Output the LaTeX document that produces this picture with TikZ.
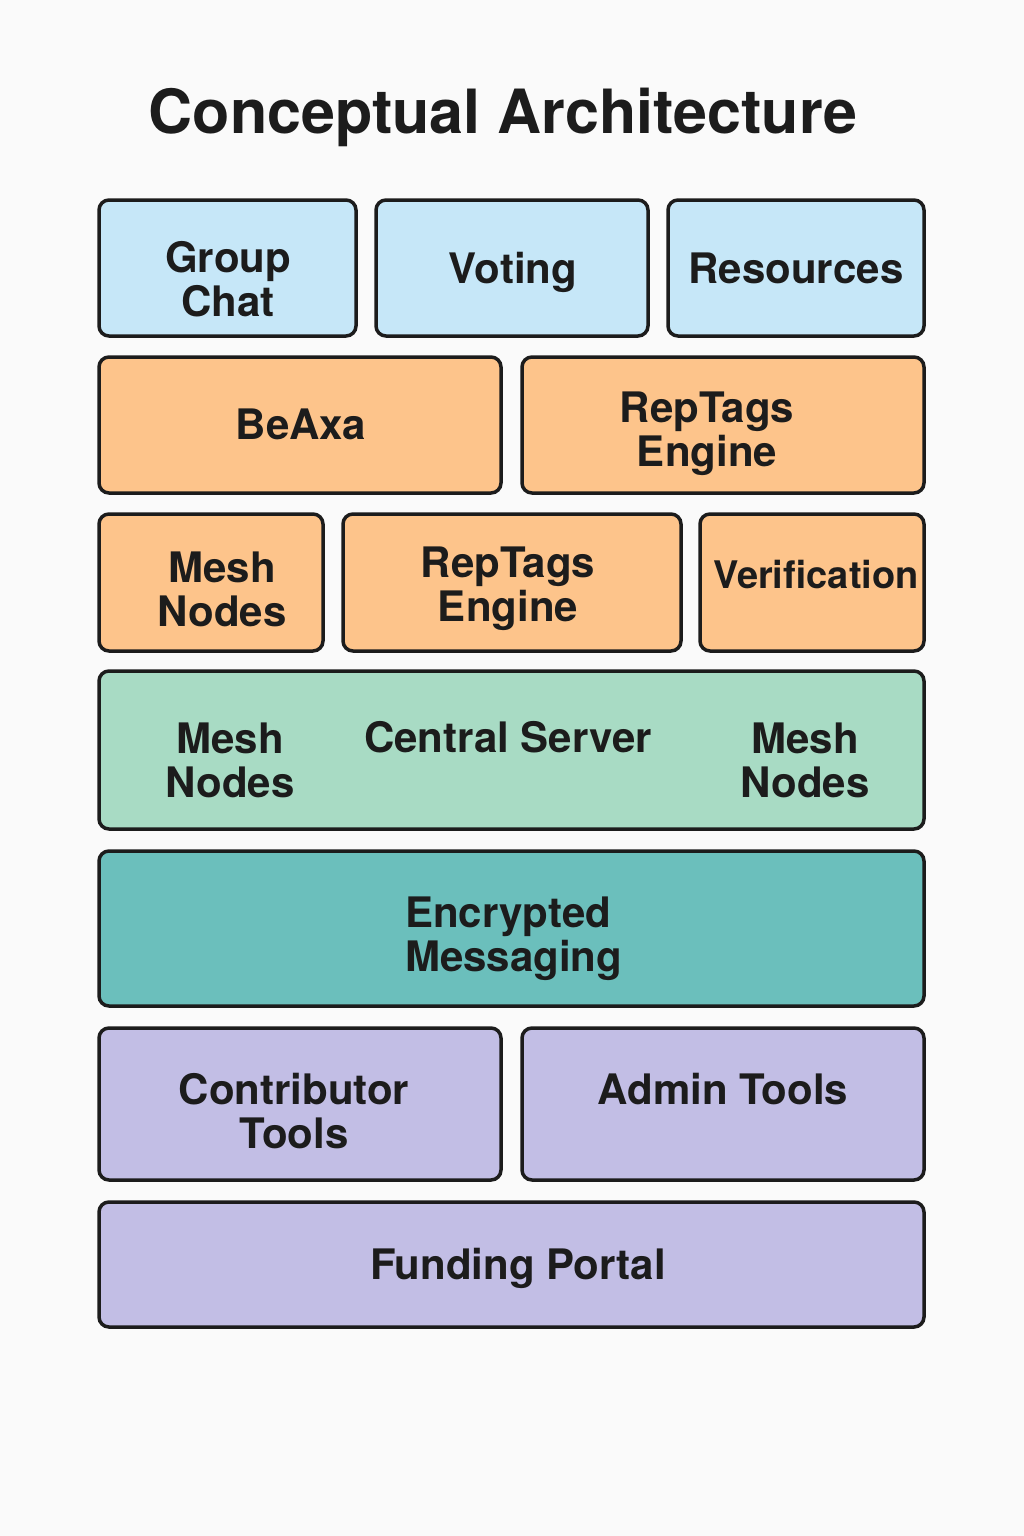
\documentclass[tikz,border=0pt]{standalone}
\usepackage{fontspec}
\setmainfont{TeX Gyre Heros}
\definecolor{bg}{HTML}{FAFAFA}
\definecolor{ink}{HTML}{1C1C1C}
\definecolor{cblue}{HTML}{C6E7F8}
\definecolor{corange}{HTML}{FDC48B}
\definecolor{cgreen}{HTML}{A8DBC4}
\definecolor{cteal}{HTML}{6BBFBC}
\definecolor{cpurple}{HTML}{C2BEE5}
\tikzset{
  layerbox/.style={draw=ink, line width=3.5pt, rounded corners=10pt, inner sep=0pt, rectangle},
  lbl/.style={font=\bfseries\fontsize{42}{44}\selectfont, text=ink, align=center, inner sep=0pt, anchor=base},
}
\begin{document}
\begin{tikzpicture}[x=1pt,y=-1pt]
\fill[bg] (0,0) rectangle (1024,1536);
\useasboundingbox (0,0) rectangle (1024,1536);
\node[font=\bfseries\fontsize{61}{61}\selectfont, text=ink, anchor=base, inner sep=0pt] (title) at (503,133) {Conceptual Architecture};
% row 1
\node[layerbox, fill=cblue, minimum width=257pt, minimum height=136pt] (gcbox) at (227.5,268) {};
\node[layerbox, fill=cblue, minimum width=272pt, minimum height=136pt] (votbox) at (512,268) {};
\node[layerbox, fill=cblue, minimum width=256pt, minimum height=136pt] (resbox) at (796,268) {};
\node[lbl] (gc) at (228,316) {Group\\Chat};
\node[lbl] (vot) at (513,283) {Voting};
\node[lbl] (res) at (796,283) {Resources};
% row 2
\node[layerbox, fill=corange, minimum width=402pt, minimum height=136pt] (beabox) at (300,425) {};
\node[layerbox, fill=corange, minimum width=402pt, minimum height=136pt] (rt1box) at (723,425) {};
\node[lbl] (bea) at (301,439) {BeAxa};
\node[lbl] (rt1) at (707,466) {RepTags\\Engine};
% row 3
\node[layerbox, fill=corange, minimum width=224pt, minimum height=137pt] (mn1box) at (211,582.5) {};
\node[layerbox, fill=corange, minimum width=338pt, minimum height=137pt] (rt2box) at (512,582.5) {};
\node[layerbox, fill=corange, minimum width=224pt, minimum height=137pt] (verbox) at (812,582.5) {};
\node[lbl] (mn1) at (222,626) {Mesh\\Nodes};
\node[lbl] (rt2) at (508,621) {RepTags\\Engine};
\node[lbl, font=\bfseries\fontsize{38}{40}\selectfont] (ver) at (816,588) {Verification};
% row 4
\node[layerbox, fill=cgreen, minimum width=825pt, minimum height=158pt] (srvbox) at (511.5,750) {};
\node[lbl] (mn2) at (230,797) {Mesh\\Nodes};
\node[lbl] (srv) at (508,752) {Central Server};
\node[lbl] (mn3) at (805,797) {Mesh\\Nodes};
% row 5
\node[layerbox, fill=cteal, minimum width=825pt, minimum height=155pt] (encbox) at (511.5,928.5) {};
\node[lbl, align=left, anchor=base west] (enc) at (405,971) {Encrypted\\Messaging};
% row 6
\node[layerbox, fill=cpurple, minimum width=402pt, minimum height=152pt] (ctbox) at (300,1104) {};
\node[layerbox, fill=cpurple, minimum width=402pt, minimum height=152pt] (adbox) at (723,1104) {};
\node[lbl] (ct) at (294,1148) {Contributor\\Tools};
\node[lbl] (ad) at (723,1104) {Admin Tools};
% row 7
\node[layerbox, fill=cpurple, minimum width=825pt, minimum height=125pt] (fpbox) at (511.5,1264.5) {};
\node[lbl] (fp) at (518,1279) {Funding Portal};
\end{tikzpicture}
\end{document}
